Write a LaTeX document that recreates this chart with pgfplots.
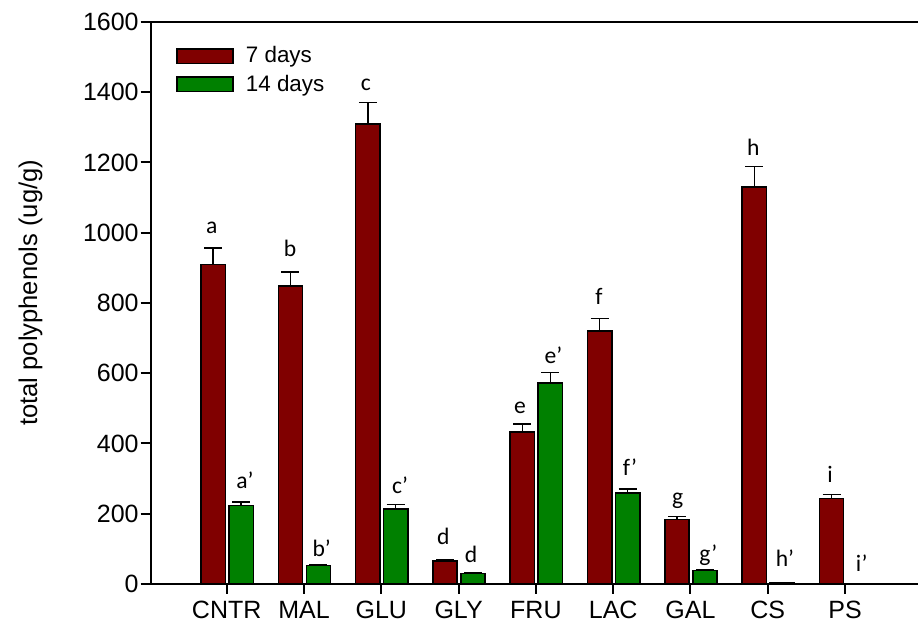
\documentclass[border=0pt]{standalone}
\usepackage{fontspec}
\setmainfont{Liberation Sans}
\newfontfamily\calib{Carlito}
\usepackage{pgfplots}
\usepackage{pgfplotstable}
\pgfplotsset{compat=1.18}
\definecolor{barred}{RGB}{128,0,0}
\definecolor{bargreen}{RGB}{0,128,0}
\pgfplotstableread{
x a ea b eb
0 910 46 223 10
1 848 40 52 2
2 1309 62 214 12
3 66 3 30 1
4 433 22 572 30
5 720 36 259 11
6 183 9 39 2
7 1130 58 4 0
8 243 12 2 0
}\data
\pgfplotstableread{
x y t
-0.194 999 a
0.819 932 b
1.802 1404 c
0.237 272 a’
1.229 78 b’
2.242 258 c’
2.802 113 d
3.16 62 d
3.794 486 e
4.226 628 e’
4.816 797 f
5.217 310 f’
5.834 227 g
6.23 63.5 g’
6.812 1221 h
7.222 49 h’
7.805 288 i
8.215 35 i’
}\labels
\pgfplotsset{
  mylegend/.style={legend image code/.code={\draw[##1, line width=0.75pt] (0pt,-3.65pt) rectangle (27.8pt,3.65pt); \path (34pt,0pt);}},
  myerr/.style={error bars/.cd, y dir=plus, y explicit,
     error bar style={line width=0.75pt, black},
     error mark options={rotate=90, mark size=4.5pt, line width=0.75pt, black}},
}
\begin{document}
\begin{tikzpicture}
\path[use as bounding box] (-75.35pt,-23.5pt) rectangle (383.65pt,292pt);
\begin{axis}[
  at={(0pt,0pt)}, anchor=south west,
  scale only axis,
  width=383.65pt, height=281pt,
  xmin=-0.983, xmax=8.943,
  ymin=0, ymax=1600,
  axis x line*=bottom, axis y line*=left,
  axis line style={line width=1pt},
  tick style={line width=1pt, black},
  tick align=outside,
  major tick length=5pt,
  xtick={0,...,8},
  xticklabels={CNTR,MAL,GLU,GLY,FRU,LAC,GAL,CS,PS},
  ytick={0,200,...,1600},
  /pgf/number format/assume math mode=true,
  /pgf/number format/set thousands separator={},
  ticklabel style={font=\fontsize{12.5}{15}\selectfont},
  yticklabel style={xshift=2.5pt},
  ylabel={total polyphenols (ug/g)},
  every axis y label/.style={at={(axis description cs:-0.1567,0.518)}, rotate=90, anchor=center, font=\fontsize{12.8}{15}\selectfont},
  legend style={at={(axis description cs:0.033,0.957)}, anchor=north west, draw=none, fill=none, inner sep=0pt, row sep=4.5pt,
    font=\fontsize{11.2}{13}\selectfont, nodes={inner sep=0pt}, cells={anchor=west}},
  clip=false,
]
\addplot[ybar, bar width=0.315, bar shift=0, fill=barred, draw=black, line width=0.75pt, mylegend, myerr]
  table[x expr=\thisrow{x}-0.175, y=a, y error=ea] {\data};
\addlegendentry{7 days}
\addplot[ybar, bar width=0.315, bar shift=0, fill=bargreen, draw=black, line width=0.75pt, mylegend, myerr]
  table[x expr=\thisrow{x}+0.187, y=b, y error=eb] {\data};
\addlegendentry{14 days}
\addplot[draw=none, mark=none, forget plot, nodes near coords, point meta=explicit symbolic,
  nodes near coords style={anchor=base, inner sep=0pt, font=\calib\fontsize{11.8}{14}\selectfont, text=black}]
  table[x=x, y=y, meta=t] {\labels};
\draw[line width=1pt] (rel axis cs:0,1) -- (rel axis cs:1,1);
\end{axis}
\end{tikzpicture}
\end{document}
